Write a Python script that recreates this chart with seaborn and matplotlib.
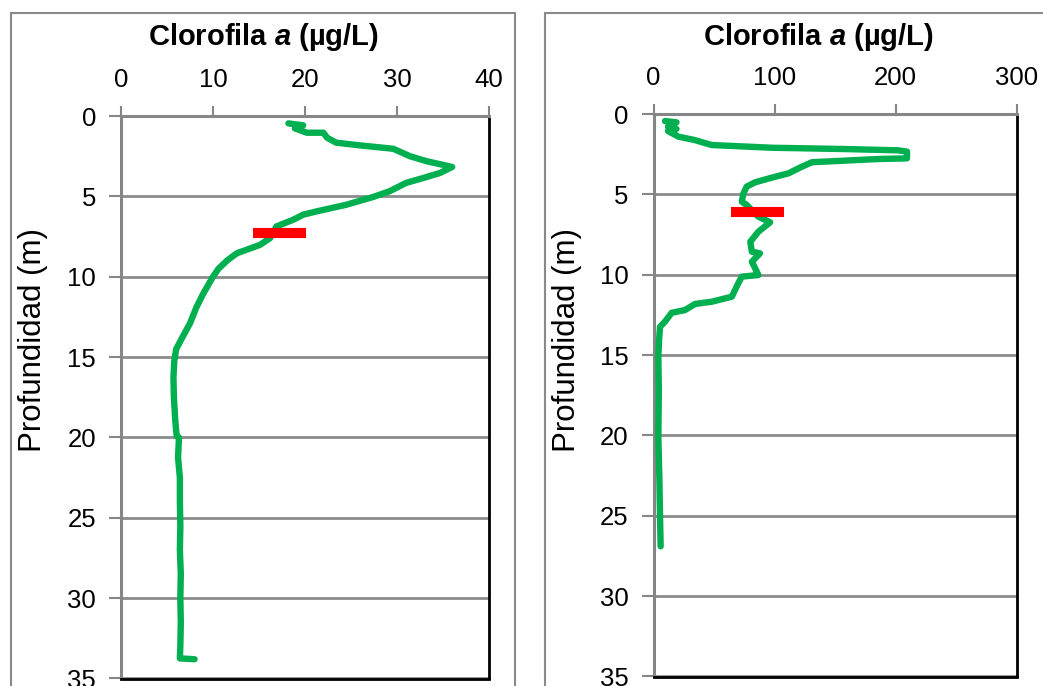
import numpy as np
import pandas as pd
import matplotlib
matplotlib.use("Agg")
import matplotlib.pyplot as plt
from matplotlib.patches import Rectangle
import seaborn as sns

# Station A profile: depth (m) and chlorophyll a (ug/L)
left_depth = [0.46, 0.58, 0.77, 1.04, 1.04, 1.35, 1.66, 1.83, 2.04, 2.5, 2.81, 3.17,
              3.54, 3.85, 4.16, 4.68, 5.04, 5.52, 5.93, 6.14, 6.46, 6.87, 7.6, 8.02,
              8.54, 8.96, 9.5, 10.0, 11.04, 11.9, 12.9, 13.85, 14.5, 15.2, 16.25,
              17.5, 18.96, 19.9, 20.0, 21.25, 22.5, 24.0, 25.5, 27.0, 28.5, 30.0,
              31.5, 33.0, 33.75, 33.8]
left_chl = [18.2, 19.8, 18.9, 20.2, 22.0, 22.4, 23.4, 26.0, 29.6, 31.4, 33.2, 36.0,
            34.7, 32.9, 31.0, 29.2, 27.4, 24.5, 21.3, 19.8, 18.7, 16.9, 16.2, 15.1,
            12.6, 11.6, 10.6, 10.0, 8.95, 8.2, 7.5, 6.6, 6.0, 5.8, 5.7,
            5.75, 5.9, 6.05, 6.3, 6.2, 6.4, 6.4, 6.45, 6.4, 6.5, 6.45,
            6.5, 6.45, 6.4, 8.0]

# Station B profile
right_depth = [0.44, 0.52, 0.79, 0.93, 1.06, 1.41, 1.62, 1.93, 2.1, 2.18, 2.26, 2.34,
               2.76, 2.8, 3.0, 3.28, 3.69, 3.96, 4.25, 4.52, 4.94, 5.46, 5.66, 6.39,
               6.74, 7.32, 7.95, 8.57, 8.67, 9.19, 9.6, 10.02, 10.12, 10.54, 11.37,
               11.47, 11.68, 11.82, 12.2, 12.37, 12.92, 13.24, 14.06, 15.1, 17.2,
               20.1, 22.5, 25.06, 26.9]
right_chl = [9.5, 19.0, 12.0, 19.0, 12.0, 20.6, 34.0, 48.0, 98.0, 158.0, 202.0, 209.5,
             209.5, 186.0, 131.0, 122.6, 111.6, 97.8, 84.0, 77.0, 74.3, 73.0, 77.0, 86.7,
             96.4, 86.7, 80.0, 81.3, 88.0, 81.3, 84.0, 86.7, 73.0, 70.0, 64.7,
             59.2, 48.2, 34.3, 26.0, 15.0, 9.5, 5.4, 4.6, 4.0, 4.4,
             4.0, 4.8, 5.4, 5.9]

# Reference bars (depth, from, to)
left_bar = (7.29, 14.3, 20.1)
right_bar = (6.08, 64.3, 108.2)

x_ticks_left = [0, 10, 20, 30, 40]
x_ticks_right = [0, 100, 200, 300]
depth_ticks = [0, 5, 10, 15, 20, 25, 30, 35]

sns.set_theme(style="white")
plt.rcParams["font.family"] = ["Liberation Sans", "DejaVu Sans"]
plt.rcParams["mathtext.fontset"] = "custom"
plt.rcParams["mathtext.it"] = "Liberation Sans:italic:bold"
plt.rcParams["mathtext.rm"] = "Liberation Sans:bold"

W, H = 1043, 686
fig = plt.figure(figsize=(W / 100, H / 100), dpi=100)
fig.patch.set_facecolor("white")

GREEN = "#00B050"
GRAY = "#868686"


def px_axes(x0, x1, ytop, ybot):
    return fig.add_axes([x0 / W, 1 - ybot / H, (x1 - x0) / W, (ybot - ytop) / H])


def chart_frame(x0, x1, ytop):
    fig.patches.append(Rectangle((x0 / W, -0.1), (x1 - x0) / W, (H - ytop) / H + 0.1,
                                 transform=fig.transFigure, fill=False,
                                 edgecolor="#8a8a8a", lw=1.5, zorder=0))


def style_axes(ax, xmax, xticks, bar, depth, chl):
    df = pd.DataFrame({"chl": chl, "depth": depth})
    sns.lineplot(data=df, x="chl", y="depth", sort=False, estimator=None,
                 color=GREEN, lw=4.6, ax=ax, zorder=3,
                 solid_capstyle="round", solid_joinstyle="round")
    ax.hlines(bar[0], bar[1], bar[2], color="#FF0000", lw=7.3, zorder=4,
              capstyle="butt")
    ax.set_xlim(0, xmax)
    ax.set_ylim(35, 0)
    ax.set_xticks(xticks)
    ax.set_yticks(depth_ticks)
    ax.xaxis.tick_top()
    ax.tick_params(axis="x", top=True, bottom=False, labeltop=True, labelbottom=False,
                   direction="out", length=7, width=1.5, color=GRAY, pad=10,
                   labelsize=18.5, labelcolor="black")
    ax.tick_params(axis="y", left=True, direction="out", length=9, width=1.5,
                   color=GRAY, pad=9, labelsize=18.5, labelcolor="black")
    ax.yaxis.grid(True, color="#8c8c8c", lw=2)
    ax.xaxis.grid(False)
    ax.set_axisbelow(True)
    for side in ("top", "left"):
        ax.spines[side].set_color(GRAY)
        ax.spines[side].set_linewidth(2.2)
    for side in ("right", "bottom"):
        ax.spines[side].set_color("black")
        ax.spines[side].set_linewidth(2)
    ax.set_xlabel("")
    ax.set_ylabel("Profundidad (m)", fontsize=22.5, color="black")


chart_frame(11, 515, 13)
chart_frame(545, 1100, 13)

ax1 = px_axes(121, 489, 116, 678.5)
style_axes(ax1, 40, x_ticks_left, left_bar, left_depth, left_chl)
ax1.yaxis.set_label_coords((48 - 121) / 368, (678.5 - 340) / 562.5)

ax2 = px_axes(653.5, 1016.5, 114, 676.5)
style_axes(ax2, 300, x_ticks_right, right_bar, right_depth, right_chl)
ax2.yaxis.set_label_coords((582 - 653.5) / 363, (676.5 - 340) / 562.5)

title = r"Clorofila $a$ (µg/L)"
fig.text(263 / W, 1 - 37 / H, title, ha="center", va="center", fontsize=21,
         fontweight="bold", color="black")
fig.text(818 / W, 1 - 37 / H, title, ha="center", va="center", fontsize=21,
         fontweight="bold", color="black")

fig.savefig("out.png", dpi=100)
